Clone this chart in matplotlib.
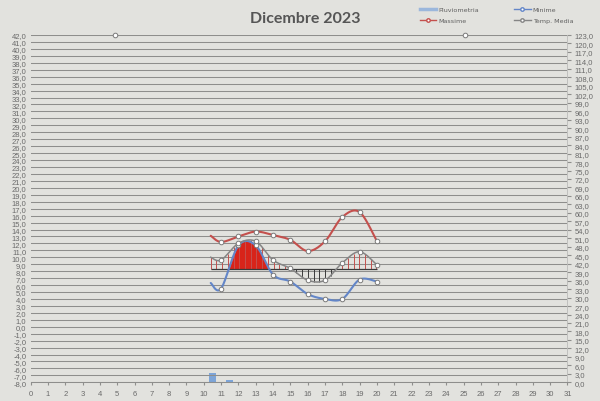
import numpy as np
import matplotlib
matplotlib.use('Agg')
import matplotlib.pyplot as plt
from matplotlib.lines import Line2D

# ---------------- data ----------------
days = [10.4, 11, 12, 13, 14, 15, 16, 17, 18, 19, 20]
massime = [13.1, 12.2, 13.0, 13.7, 13.2, 12.5, 10.9, 12.3, 15.8, 16.5, 12.3]
minime = [6.3, 5.5, 11.7, 11.7, 7.5, 6.5, 4.7, 4.0, 4.0, 6.8, 6.5]
media = [10.0, 9.6, 12.0, 12.3, 9.6, 8.4, 6.7, 6.7, 9.2, 10.8, 8.9]
riferimento = 8.3
rain_days = [10.5, 11.5]
pluviometria = [3.3, 0.8]
top_days = [4.9, 25.1]
top_values = [42.0, 42.0]
x_ticks = list(range(0, 32))
left_ticks = list(range(-8, 43))
right_ticks = list(range(0, 124, 3))
title = "Dicembre 2023"

BG = "#e2e2de"
GRID = "#8e8e8c"
TXT = "#6a6a6a"
RED = "#c4504d"
BLUE = "#6386c8"
GRAY = "#858585"


def smooth(x, y, n=30):
    P = np.column_stack([x, y]).astype(float)
    P = np.vstack([P[0], P, P[-1]])
    out = []
    t = np.linspace(0, 1, n)[:, None]
    for i in range(1, len(P) - 2):
        p0, p1, p2, p3 = P[i - 1], P[i], P[i + 1], P[i + 2]
        c1 = p1 + (p2 - p0) / 6
        c2 = p2 - (p3 - p1) / 6
        seg = (1 - t) ** 3 * p1 + 3 * (1 - t) ** 2 * t * c1 + 3 * (1 - t) * t ** 2 * c2 + t ** 3 * p2
        out.append(seg if i == 1 else seg[1:])
    S = np.vstack(out)
    return S[:, 0], S[:, 1]


fig = plt.figure(figsize=(6.0, 4.02), dpi=100, facecolor=BG)
ax = fig.add_axes([0.051, 0.0465, 0.8948, 0.8639], facecolor=BG)
ax2 = ax.twinx()
ax.set_zorder(2)
ax.patch.set_visible(False)

ax.set_xlim(0, 31)
ax.set_ylim(-8, 42)
ax2.set_ylim(0, 123)

ax.set_yticks(left_ticks)
ax.set_yticklabels([f"{v:.1f}".replace('.', ',') for v in left_ticks])
ax.set_xticks(x_ticks)
ax.set_xticklabels([str(v) for v in x_ticks])
ax2.set_yticks(right_ticks)
ax2.set_yticklabels([f"{v:.1f}".replace('.', ',') for v in right_ticks])

ax.yaxis.grid(True, color=GRID, lw=0.75)
ax.set_axisbelow(True)
for a in (ax, ax2):
    for s in a.spines.values():
        s.set_visible(False)
ax.spines['bottom'].set_visible(True)
ax.spines['bottom'].set_color(GRID)
ax.spines['bottom'].set_linewidth(0.75)
ax2.spines['right'].set_visible(True)
ax2.spines['right'].set_color("#b4b4b2")
ax2.spines['right'].set_linewidth(0.5)

ax.tick_params(axis='y', length=0, pad=3, labelsize=5.5, labelcolor=TXT)
ax.tick_params(axis='x', length=2.5, color=GRID, pad=3, labelsize=5.5, labelcolor=TXT)
ax2.tick_params(axis='y', length=3, color=GRID, pad=2, labelsize=5.5, labelcolor=TXT)
for lab in ax.get_xticklabels() + ax.get_yticklabels() + ax2.get_yticklabels():
    lab.set_fontfamily('Liberation Sans')

# rain bars on secondary axis
ax2.bar(rain_days, pluviometria, width=0.4, color="#7da5d8", zorder=1)

# smoothed series
mx, my = smooth(days, massime)
nx, ny = smooth(days, minime)
gx, gy = smooth(days, media)

# red fill where minima above reference
ax.fill_between(nx, riferimento, ny, where=ny > riferimento, interpolate=True,
                color="#d8241a", lw=0, zorder=3)

# hatching between media and reference
xh = np.arange(days[0], days[-1] + 1e-6, 0.33)
yh = np.interp(xh, gx, gy)
cols = [RED if v > riferimento else "#3a3a3a" for v in yh]
ax.vlines(xh, riferimento, yh, colors=cols, lw=0.7, zorder=4)
ax.hlines(riferimento, days[0], days[-1], colors="#3a3a3a", lw=0.9, zorder=4)

mk = dict(marker='o', ms=3.3, mfc='white', mec='#7a7a7a', mew=0.7, ls='none', zorder=7)
ax.plot(mx, my, color=RED, lw=1.5, zorder=5, solid_capstyle='round')
ax.plot(nx, ny, color=BLUE, lw=1.5, zorder=5, solid_capstyle='round')
ax.plot(gx, gy, color=GRAY, lw=1.1, zorder=5)
ax.plot(days[1:], massime[1:], **mk)
ax.plot(days[1:], minime[1:], **mk)
ax.plot(days[1:], media[1:], **mk)
ax.plot(top_days, top_values, clip_on=False, **mk)

fig.text(0.508, 0.953, title, ha='center', va='center', fontsize=11.5,
         fontweight='bold', color="#555555", family='Lato')

handles = [
    Line2D([0], [0], color="#9bb7dc", lw=2.5),
    Line2D([0], [0], color=RED, lw=1, marker='o', ms=2.5, mfc='white', mec=RED),
    Line2D([0], [0], color=BLUE, lw=1, marker='o', ms=2.5, mfc='white', mec=BLUE),
    Line2D([0], [0], color=GRAY, lw=1, marker='o', ms=2.5, mfc='white', mec=GRAY),
]
labels = ["Pluviometria", "Massime", "Minime", "Temp. Media"]
leg = fig.legend(handles, labels, loc='upper left', bbox_to_anchor=(0.69, 0.995),
                 ncol=2, fontsize=4.6, frameon=False, handlelength=2.6,
                 columnspacing=5.5, labelspacing=0.9, handletextpad=0.3)
for t in leg.get_texts():
    t.set_color("#606060")

fig.savefig("out.png", dpi=100, facecolor=BG)
